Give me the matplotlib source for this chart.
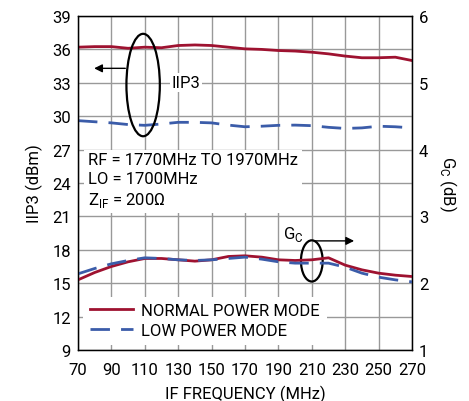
import numpy as np
import matplotlib
matplotlib.use("Agg")
import matplotlib.pyplot as plt
from matplotlib.patches import Ellipse

plt.rcParams['font.family'] = ['Roboto', 'DejaVu Sans']

# IF frequency (MHz)
freq = [70, 80, 90, 100, 110, 120, 130, 140, 150, 160, 170, 180, 190, 200, 210, 220, 230, 240, 250, 260, 270]

# IIP3 (dBm)
iip3_normal = [36.2, 36.25, 36.25, 36.1, 36.2, 36.15, 36.35, 36.4, 36.35, 36.2, 36.05, 36.0, 35.9, 35.85, 35.75, 35.6, 35.4, 35.25, 35.25, 35.3, 35.0]
iip3_low = [29.6, 29.5, 29.4, 29.25, 29.18, 29.3, 29.45, 29.45, 29.4, 29.2, 29.05, 29.1, 29.18, 29.2, 29.15, 29.0, 28.9, 28.95, 29.1, 29.05, 28.95]

# conversion gain (dB)
gc_normal = [2.05, 2.16, 2.25, 2.32, 2.37, 2.37, 2.35, 2.33, 2.35, 2.40, 2.41, 2.39, 2.35, 2.34, 2.35, 2.38, 2.27, 2.2, 2.15, 2.12, 2.10]
gc_low = [2.14, 2.22, 2.29, 2.34, 2.38, 2.37, 2.35, 2.34, 2.35, 2.37, 2.39, 2.36, 2.32, 2.30, 2.30, 2.30, 2.24, 2.15, 2.09, 2.05, 2.02]

red = "#9e1230"
blue = "#3b5ca9"

fig = plt.figure(figsize=(4.69, 4.02), dpi=100)
ax = fig.add_axes([0.1663, 0.1269, 0.7122, 0.8308])
ax2 = ax.twinx()

ax.set_xlim(70, 270)
ax.set_ylim(9, 39)
ax2.set_ylim(1, 6)
ax.set_xticks(np.arange(70, 271, 20))
ax.set_yticks(np.arange(9, 40, 3))
ax2.set_yticks(np.arange(1, 7, 1))
ax.grid(True, color="#999999", lw=1.0)
ax.set_axisbelow(True)
ax.tick_params(axis="y", length=0, labelsize=12, pad=5)
ax.tick_params(axis="x", length=0, labelsize=12, pad=9)
ax2.tick_params(length=0, labelsize=12, pad=5)

ax.plot(freq, iip3_normal, color=red, lw=2.0, label="NORMAL POWER MODE")
ax.plot(freq, iip3_low, color=blue, lw=2.0, dashes=(7, 4), label="LOW POWER MODE")
ax2.plot(freq, gc_normal, color=red, lw=2.0)
ax2.plot(freq, gc_low, color=blue, lw=2.0, dashes=(7, 4))

ax.set_xlabel("IF FREQUENCY (MHz)", fontsize=12, labelpad=5)
ax.set_ylabel("IIP3 (dBm)", fontsize=12, labelpad=7)
ax2.set_ylabel("G$_\\mathregular{C}$ (dB)", fontsize=12, rotation=270, labelpad=22)

for s in ax.spines.values():
    s.set_color("black")
    s.set_linewidth(1.0)

# IIP3 annotation
ax.add_patch(Ellipse((109, 32.8), 20, 9.2, fill=False, lw=1.6, color="black", zorder=5))
ax.annotate("", xy=(78, 34.3), xytext=(100, 34.3),
            arrowprops=dict(arrowstyle="-|>", color="black", lw=1.0, mutation_scale=12), zorder=5)
ax.text(126, 33, "IIP3", fontsize=12, va="center", ha="left",
        bbox=dict(facecolor="white", edgecolor="none", pad=1.5), zorder=4)

# conditions
ax.text(76, 24.2, "RF = 1770MHz TO 1970MHz\nLO = 1700MHz\nZ$_\\mathregular{IF}$ = 200Ω", fontsize=12,
        va="center", ha="left", linespacing=1.3,
        bbox=dict(facecolor="white", edgecolor="none", pad=3), zorder=4)

# Gc annotation
ax.add_patch(Ellipse((210, 17.0), 13, 3.7, fill=False, lw=1.6, color="black", zorder=5))
ax.annotate("", xy=(237, 18.8), xytext=(210, 18.8),
            arrowprops=dict(arrowstyle="-|>", color="black", lw=1.0, mutation_scale=12), zorder=5)
ax.text(193, 19.5, "G$_\\mathregular{C}$", fontsize=12, va="center", ha="left", zorder=4)

leg = ax.legend(loc="lower left", fontsize=12, frameon=True, handlelength=2.6,
                borderaxespad=0.3, labelspacing=0.3, handletextpad=0.5)
leg.get_frame().set_edgecolor("none")
leg.get_frame().set_facecolor("white")
leg.get_frame().set_alpha(1.0)
leg.get_frame().set_boxstyle("square", pad=0.0)

fig.savefig("out.png", dpi=100)
